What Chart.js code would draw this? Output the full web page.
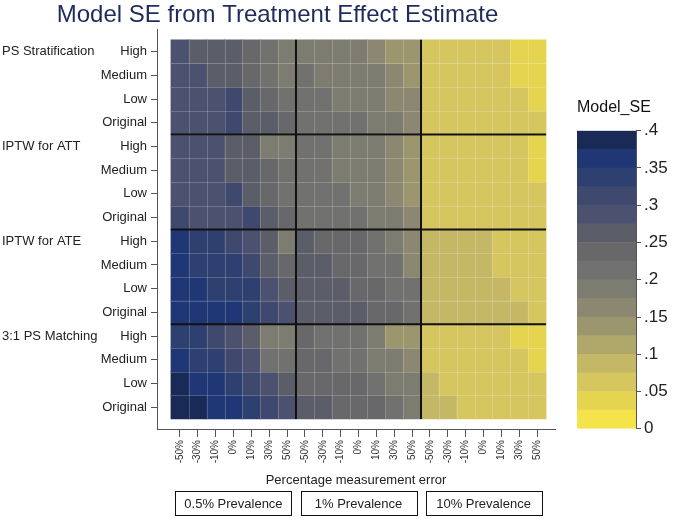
<!DOCTYPE html>
<html>
<head>
<meta charset="utf-8">
<script src="https://cdn.jsdelivr.net/npm/chart.js@4.4.1/dist/chart.umd.min.js"></script>
<style>
  body { margin: 0; background: #fff; }
  #wrap { position: relative; width: 676px; height: 519px; }
  #heat { position: absolute; left: 0; top: 0; }
  #bar { position: absolute; left: 560px; top: 92px; }
</style>
</head>
<body>
<div id="wrap">
  <canvas id="heat" width="676" height="519"></canvas>
  <canvas id="bar" width="116" height="350"></canvas>
</div>
<script>
// setup
const methods = ['PS Stratification', 'IPTW for ATT', 'IPTW for ATE', '3:1 PS Matching'];
const levels = ['High', 'Medium', 'Low', 'Original'];
const errors = ['-50%', '-30%', '-10%', '0%', '10%', '30%', '50%'];
const prevalences = ['0.5% Prevalence', '1% Prevalence', '10% Prevalence'];

// Model SE: rows = High, Medium, Low, Original; 21 cols = 0.5% | 1% | 10% prevalence x 7 errors
const psStratification = [
  [.29, .26, .26, .26, .24, .21, .19,  .19, .19, .19, .19, .16, .14, .14,  .06, .06, .06, .06, .06, .04, .04],
  [.29, .29, .26, .26, .24, .21, .19,  .21, .19, .19, .19, .19, .16, .14,  .06, .06, .06, .06, .06, .04, .04],
  [.29, .29, .29, .31, .26, .24, .21,  .21, .21, .19, .19, .19, .16, .16,  .06, .06, .06, .06, .06, .06, .04],
  [.29, .29, .29, .31, .26, .26, .24,  .21, .21, .21, .21, .19, .19, .16,  .06, .06, .06, .06, .06, .06, .06]
];
const iptwAtt = [
  [.29, .29, .29, .26, .26, .19, .19,  .21, .21, .19, .19, .19, .16, .14,  .06, .06, .06, .06, .06, .06, .04],
  [.29, .29, .29, .26, .26, .24, .21,  .21, .21, .19, .19, .19, .16, .14,  .06, .06, .06, .06, .06, .06, .04],
  [.29, .29, .29, .31, .26, .24, .21,  .21, .21, .21, .19, .19, .16, .14,  .06, .06, .06, .06, .06, .06, .06],
  [.31, .29, .29, .29, .31, .26, .24,  .21, .21, .21, .21, .19, .19, .16,  .06, .06, .06, .06, .06, .06, .06]
];
const iptwAte = [
  [.36, .34, .34, .31, .29, .26, .19,  .26, .24, .24, .24, .21, .19, .16,  .09, .09, .09, .09, .06, .06, .06],
  [.36, .34, .34, .34, .31, .26, .24,  .26, .26, .24, .24, .21, .21, .16,  .09, .09, .09, .09, .06, .06, .06],
  [.36, .36, .34, .34, .34, .29, .26,  .26, .26, .26, .24, .24, .21, .21,  .09, .09, .09, .09, .09, .06, .06],
  [.36, .37, .37, .37, .34, .31, .29,  .26, .26, .26, .26, .24, .24, .21,  .09, .09, .09, .09, .09, .09, .06]
];
const psMatching = [
  [.34, .34, .31, .29, .26, .19, .19,  .24, .21, .21, .21, .19, .14, .14,  .06, .06, .06, .06, .06, .04, .04],
  [.36, .34, .34, .31, .29, .21, .21,  .24, .24, .21, .21, .19, .19, .16,  .06, .06, .06, .06, .06, .06, .04],
  [.39, .36, .36, .34, .31, .29, .26,  .24, .24, .24, .24, .21, .19, .19,  .09, .06, .06, .06, .06, .06, .06],
  [.39, .39, .36, .36, .34, .31, .29,  .26, .26, .24, .24, .24, .21, .19,  .09, .09, .06, .06, .06, .06, .06]
];

// colour legend cut points (0 .. .4 by .025)
const seBreaks = [0, .025, .05, .075, .1, .125, .15, .175, .2, .225, .25, .275, .3, .325, .35, .375, .4];
const seColors = ['#f5e34b', '#e5d450', '#d5c65f', '#c4b866', '#b0a76b', '#9c966f', '#8b8770', '#7d7c71',
                  '#717170', '#68686b', '#5b5d69', '#4c5170', '#3f496e', '#2e4070', '#1f3775', '#1a2a56'];

const seColor = v => {
  let i = 0;
  while (i < seColors.length - 1 && v >= seBreaks[i + 1]) i++;
  return seColors[i];
};

Chart.defaults.font.family = "'Liberation Sans', Arial, sans-serif";
Chart.defaults.color = '#222';

const rows = [psStratification, iptwAtt, iptwAte, psMatching].flat();
const nCols = errors.length * prevalences.length;

const datasets = rows.map((vals, r) => ({
  data: vals.map((v, c) => ({ x: c, y: [r - 0.5, r + 0.5] })),
  backgroundColor: vals.map(seColor),
  borderWidth: 0,
  grouped: false,
  barPercentage: 1,
  categoryPercentage: 1
}));

// separators, faint cell lines, group labels and prevalence boxes
const overlay = {
  id: 'overlay',
  afterDatasetsDraw(chart) {
    const { ctx, scales: { x, y } } = chart;
    const left = x.getPixelForValue(-0.5), right = x.getPixelForValue(nCols - 0.5);
    const top = y.getPixelForValue(-0.5), bottom = y.getPixelForValue(rows.length - 0.5);
    ctx.save();
    ctx.strokeStyle = 'rgba(255,255,255,0.2)';
    ctx.lineWidth = 1;
    ctx.beginPath();
    for (let c = 0; c < nCols - 1; c++) {
      const px = Math.round(x.getPixelForValue(c + 0.5)) + 0.5;
      ctx.moveTo(px, top); ctx.lineTo(px, bottom);
    }
    for (let r = 0; r < rows.length - 1; r++) {
      const py = Math.round(y.getPixelForValue(r + 0.5)) + 0.5;
      ctx.moveTo(left, py); ctx.lineTo(right, py);
    }
    ctx.stroke();

    ctx.strokeStyle = '#111';
    ctx.lineWidth = 2;
    ctx.beginPath();
    for (let g = 1; g < prevalences.length; g++) {
      const px = x.getPixelForValue(g * errors.length - 0.5);
      ctx.moveTo(px, top); ctx.lineTo(px, bottom);
    }
    for (let g = 1; g < methods.length; g++) {
      const py = y.getPixelForValue(g * levels.length - 0.5);
      ctx.moveTo(left, py); ctx.lineTo(right, py);
    }
    ctx.stroke();
    ctx.restore();
  },
  afterDraw(chart) {
    const { ctx, scales: { x, y } } = chart;
    ctx.save();
    ctx.font = "13px 'Liberation Sans', Arial, sans-serif";
    ctx.fillStyle = '#222';
    ctx.textBaseline = 'middle';
    ctx.textAlign = 'left';
    methods.forEach((m, g) => ctx.fillText(m, 2, y.getPixelForValue(g * levels.length)));

    ctx.textAlign = 'center';
    ctx.strokeStyle = '#111';
    ctx.lineWidth = 1;
    prevalences.forEach((p, g) => {
      const cx = x.getPixelForValue(g * errors.length + 3);
      const w = 116, h = 24, top = 491;
      ctx.strokeRect(Math.round(cx - w / 2) + 0.5, top + 0.5, w, h);
      ctx.fillText(p, cx, top + h / 2 + 1);
    });
    ctx.restore();
  }
};

const heat = new Chart(document.getElementById('heat'), {
  type: 'bar',
  data: { datasets },
  options: {
    responsive: false,
    animation: false,
    layout: { padding: { left: 0, right: 121, top: 0, bottom: 27 } },
    plugins: {
      legend: { display: false },
      tooltip: { enabled: false },
      title: {
        display: true,
        text: 'Model SE from Treatment Effect Estimate',
        color: '#1f2b5a',
        font: { size: 24, weight: 'normal' },
        padding: { top: 1, bottom: 0 }
      }
    },
    scales: {
      x: {
        type: 'linear',
        min: -1.28,
        max: 21,
        offset: false,
        grid: { drawOnChartArea: false, offset: false, tickLength: 8, color: '#555' },
        border: { color: '#555' },
        ticks: {
          autoSkip: false,
          minRotation: 90,
          maxRotation: 90,
          padding: 3,
          color: '#333',
          font: { size: 10 },
          callback: v => errors[v % errors.length]
        },
        afterBuildTicks: s => { s.ticks = rows[0].map((_, c) => ({ value: c })); },
        afterFit: s => { s.height = 63; },
        title: {
          display: true,
          text: 'Percentage measurement error',
          color: '#222',
          font: { size: 13 },
          padding: { top: 4, bottom: 4 }
        }
      },
      y: {
        type: 'linear',
        reverse: true,
        min: -0.92,
        max: 15.92,
        grid: { drawOnChartArea: false, tickLength: 6, color: '#555' },
        border: { color: '#555' },
        ticks: {
          padding: 4,
          color: '#222',
          font: { size: 13 },
          callback: v => levels[v % levels.length]
        },
        afterBuildTicks: s => { s.ticks = rows.map((_, r) => ({ value: r })); },
        afterFit: s => { s.width = 157; }
      }
    }
  },
  plugins: [overlay]
});

// colour legend
const legendBar = new Chart(document.getElementById('bar'), {
  type: 'bar',
  data: {
    labels: [''],
    datasets: seColors.map((col, i) => ({
      data: [[seBreaks[i], seBreaks[i + 1]]],
      backgroundColor: col,
      borderWidth: 0,
      grouped: false,
      barPercentage: 1,
      categoryPercentage: 1
    }))
  },
  options: {
    responsive: false,
    animation: false,
    layout: { padding: { left: 17, right: 0, top: 0, bottom: 12.7 } },
    plugins: {
      legend: { display: false },
      tooltip: { enabled: false },
      title: {
        display: true,
        text: 'Model_SE',
        align: 'start',
        color: '#111',
        font: { size: 16, weight: 'normal' },
        padding: { top: 6, bottom: 13.5 }
      }
    },
    scales: {
      x: { display: false },
      y: {
        position: 'right',
        min: 0,
        max: 0.4,
        grid: { drawOnChartArea: false, tickLength: 5, color: '#555' },
        border: { color: '#555' },
        ticks: {
          stepSize: 0.05,
          padding: 3,
          color: '#222',
          font: { size: 17 },
          callback: v => v === 0 ? '0' : String(+v.toFixed(2)).replace(/^0/, '')
        },
        afterFit: s => { s.width = 40; }
      }
    }
  }
});
</script>
</body>
</html>
